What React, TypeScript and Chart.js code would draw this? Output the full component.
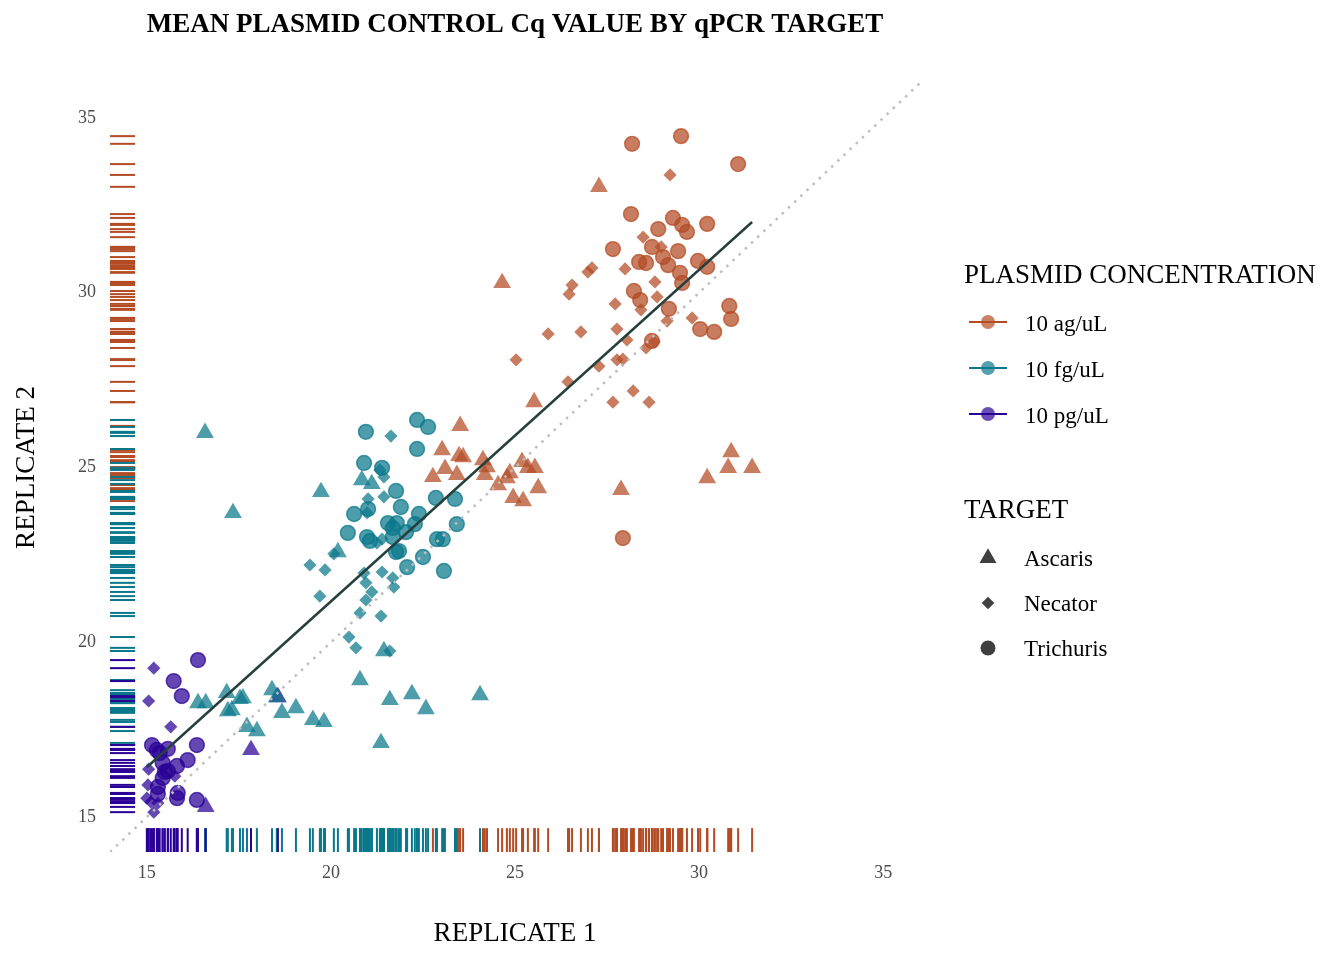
import React, { useEffect, useRef } from "react";
import { Chart, registerables } from "chart.js";

Chart.register(...registerables);

const FONT = "'Liberation Serif', 'Times New Roman', Times, serif";

const AXIS_MIN = 14;
const AXIS_MAX = 36;
const X_TICKS = [15, 20, 25, 30, 35];
const Y_TICKS = [15, 20, 25, 30, 35];

const TITLE = "MEAN PLASMID CONTROL Cq VALUE BY qPCR TARGET";
const X_TITLE = "REPLICATE 1";
const Y_TITLE = "REPLICATE 2";
const COLOR_LEGEND_TITLE = "PLASMID CONCENTRATION";
const SHAPE_LEGEND_TITLE = "TARGET";

const CONCENTRATIONS = ["10 ag/uL", "10 fg/uL", "10 pg/uL"];
const TARGETS = ["Ascaris", "Necator", "Trichuris"];
const CONC_RGB = [
  [179, 75, 36],
  [10, 119, 139],
  [42, 0, 150],
];

// [replicate 1, replicate 2]
const AG_ASCARIS = [
  [22.77, 24.73], [23.02, 25.5], [23.48, 25.33], [23.59, 25.3], [23.1, 24.96], [23.42, 24.79],
  [23.51, 26.19], [24.13, 25.21], [24.18, 24.79], [24.24, 25.01], [24.54, 24.5], [24.78, 24.7],
  [24.86, 24.84], [24.95, 24.13], [25.19, 25.16], [25.22, 24.04], [25.35, 24.99], [25.54, 24.99],
  [25.63, 24.41], [25.52, 26.87], [27.88, 24.36], [30.22, 24.7], [30.79, 24.99], [30.87, 25.44],
  [31.44, 24.99], [24.65, 30.28], [27.28, 33.03],
];
const AG_NECATOR = [
  [29.21, 33.37], [28.48, 31.59], [28.97, 31.31], [27.99, 30.68], [27.09, 30.71], [26.98, 30.59],
  [26.55, 30.22], [26.47, 29.96], [28.8, 30.31], [28.86, 29.88], [27.72, 29.68], [28.42, 29.51],
  [29.13, 29.19], [29.81, 29.28], [27.77, 28.96], [28.04, 28.65], [25.9, 28.82], [26.79, 28.88],
  [28.56, 28.42], [28.78, 28.59], [25.03, 28.08], [27.28, 27.9], [27.77, 28.08], [27.93, 28.1],
  [26.44, 27.45], [28.21, 27.19], [27.66, 26.87], [28.64, 26.87],
];
const AG_TRICHURIS = [
  [28.18, 34.26], [29.51, 34.48], [31.06, 33.68], [28.15, 32.25], [29.29, 32.14], [29.54, 31.94],
  [29.67, 31.74], [30.22, 31.97], [28.89, 31.82], [27.66, 31.25], [28.72, 31.31], [29.02, 31.02],
  [29.43, 31.19], [28.37, 30.88], [28.56, 30.85], [29.16, 30.79], [29.48, 30.57], [29.54, 30.28],
  [29.97, 30.91], [30.22, 30.74], [28.23, 30.05], [28.4, 29.79], [29.18, 29.54], [30.82, 29.62],
  [30.87, 29.25], [30.03, 28.96], [30.41, 28.88], [28.72, 28.62], [27.93, 22.98],
];
const FG_ASCARIS = [
  [16.58, 25.99], [17.34, 23.7], [19.73, 24.3], [20.84, 24.64], [21.11, 24.53], [20.19, 22.58],
  [21.44, 19.75], [20.79, 18.92], [22.2, 18.52], [24.05, 18.49], [21.6, 18.35], [21.36, 17.12],
  [22.58, 18.09], [16.39, 18.26], [16.6, 18.26], [17.17, 18.55], [17.2, 18.03], [17.31, 18.06],
  [17.53, 18.38], [17.61, 18.4], [17.72, 17.58], [17.99, 17.46], [18.4, 18.63], [18.53, 18.43],
  [18.67, 17.98], [19.05, 18.12], [19.51, 17.78], [19.81, 17.72],
];
const FG_NECATOR = [
  [21.63, 25.9], [21.01, 24.1], [21.44, 24.16], [21.33, 24.93], [21.44, 24.73], [20.98, 23.7],
  [20.08, 22.53], [19.43, 22.21], [19.84, 22.07], [20.9, 21.98], [21.39, 22.01], [20.95, 21.7],
  [21.68, 21.84], [21.71, 21.58], [21.11, 21.44], [20.95, 21.21], [19.7, 21.32], [20.79, 20.84],
  [21.36, 20.75], [20.49, 20.15], [20.68, 19.84], [21.6, 19.75], [21.39, 22.95], [21.25, 22.84],
];
const FG_TRICHURIS = [
  [20.95, 26.02], [22.34, 26.36], [22.64, 26.16], [22.34, 25.53], [20.9, 25.13], [21.39, 24.99],
  [21.77, 24.33], [21.9, 23.87], [20.63, 23.67], [21.01, 23.81], [20.46, 23.13], [20.98, 23.01],
  [21.06, 22.9], [21.55, 23.41], [21.79, 23.41], [21.68, 23.27], [22.04, 23.15], [22.28, 23.38],
  [22.39, 23.67], [21.77, 22.58], [21.85, 22.61], [22.07, 22.15], [22.5, 22.44], [22.85, 24.13],
  [23.37, 24.1], [23.42, 23.38], [22.88, 22.95], [23.04, 22.95], [23.07, 22.04], [21.68, 23.01],
];
const PG_ASCARIS = [
  [17.83, 16.92], [18.56, 18.43], [16.6, 15.29],
];
const PG_NECATOR = [
  [15.19, 19.26], [15.05, 18.32], [15.65, 17.58], [15.05, 16.37], [15.03, 15.92], [15.0, 15.54],
  [15.11, 15.43], [15.3, 15.4], [15.19, 15.14], [15.76, 16.17],
];
const PG_TRICHURIS = [
  [16.39, 19.49], [15.73, 18.89], [15.95, 18.46], [16.36, 17.06], [15.14, 17.06], [15.27, 16.92],
  [15.35, 16.83], [15.57, 16.95], [15.43, 16.55], [15.49, 16.29], [15.82, 16.46], [16.11, 16.63],
  [15.3, 15.86], [15.3, 15.66], [15.84, 15.69], [15.82, 15.54], [16.36, 15.49], [15.57, 16.32],
  [15.43, 16.12],
];

const SERIES = [
  { conc: 0, target: 0, points: AG_ASCARIS },
  { conc: 0, target: 1, points: AG_NECATOR },
  { conc: 0, target: 2, points: AG_TRICHURIS },
  { conc: 1, target: 0, points: FG_ASCARIS },
  { conc: 1, target: 1, points: FG_NECATOR },
  { conc: 1, target: 2, points: FG_TRICHURIS },
  { conc: 2, target: 0, points: PG_ASCARIS },
  { conc: 2, target: 1, points: PG_NECATOR },
  { conc: 2, target: 2, points: PG_TRICHURIS },
];

const SHAPES = ["triangle", "rectRot", "circle"];
const SHAPE_RADIUS = [10.3, 6.6, 7.4];

const rgba = (c: number[], a: number) => `rgba(${c[0]},${c[1]},${c[2]},${a})`;

function fitLine() {
  const all = SERIES.flatMap((s) => s.points);
  const n = all.length;
  let sx = 0, sy = 0, sxx = 0, sxy = 0;
  all.forEach(([x, y]) => { sx += x; sy += y; sxx += x * x; sxy += x * y; });
  const slope = (n * sxy - sx * sy) / (n * sxx - sx * sx);
  const intercept = (sy - slope * sx) / n;
  const xs = all.map((p) => p[0]);
  const x0 = Math.min(...xs);
  const x1 = Math.max(...xs);
  return [
    { x: x0, y: intercept + slope * x0 },
    { x: x1, y: intercept + slope * x1 },
  ];
}

function drawShape(ctx: CanvasRenderingContext2D, shape: number, x: number, y: number, r: number) {
  ctx.beginPath();
  if (shape === 0) {
    ctx.moveTo(x, y - r);
    ctx.lineTo(x + r * Math.sin((2 * Math.PI) / 3), y - r * Math.cos((2 * Math.PI) / 3));
    ctx.lineTo(x + r * Math.sin((4 * Math.PI) / 3), y - r * Math.cos((4 * Math.PI) / 3));
    ctx.closePath();
  } else if (shape === 1) {
    ctx.moveTo(x - r, y);
    ctx.lineTo(x, y - r);
    ctx.lineTo(x + r, y);
    ctx.lineTo(x, y + r);
    ctx.closePath();
  } else {
    ctx.arc(x, y, r, 0, Math.PI * 2);
  }
  ctx.fill();
}

const rugPlugin = {
  id: "rug",
  beforeDatasetsDraw(chart: any) {
    const { ctx, chartArea: a, scales } = chart;
    const lenX = (a.bottom - a.top) * 0.031;
    const lenY = (a.right - a.left) * 0.031;
    ctx.save();
    ctx.lineWidth = 2;
    SERIES.forEach((s) => {
      ctx.strokeStyle = rgba(CONC_RGB[s.conc], 1);
      s.points.forEach(([px, py]) => {
        const X = scales.x.getPixelForValue(px);
        const Y = scales.y.getPixelForValue(py);
        ctx.beginPath();
        ctx.moveTo(X, a.bottom);
        ctx.lineTo(X, a.bottom - lenX);
        ctx.stroke();
        ctx.beginPath();
        ctx.moveTo(a.left, Y);
        ctx.lineTo(a.left + lenY, Y);
        ctx.stroke();
      });
    });
    ctx.restore();
  },
};

const textPlugin = {
  id: "texts",
  afterDraw(chart: any) {
    const { ctx, chartArea: a } = chart;
    const cx = (a.left + a.right) / 2;
    const cy = (a.top + a.bottom) / 2;
    ctx.save();
    ctx.fillStyle = "#000";
    ctx.textBaseline = "alphabetic";
    ctx.textAlign = "center";
    ctx.font = `bold 27px ${FONT}`;
    ctx.fillText(TITLE, cx, 32);
    ctx.font = `27px ${FONT}`;
    ctx.fillText(X_TITLE, cx, a.bottom + 89);
    ctx.save();
    ctx.translate(a.left - 76, cy);
    ctx.rotate(-Math.PI / 2);
    ctx.fillText(Y_TITLE, 0, 0);
    ctx.restore();

    // legends
    const lx = a.right + 44;
    const keyX = a.right + 68;
    const labX = a.right + 105;
    ctx.textAlign = "left";
    ctx.font = `27px ${FONT}`;
    ctx.fillText(COLOR_LEGEND_TITLE, lx, 283);
    const colorY = [322, 368, 414];
    CONCENTRATIONS.forEach((lab, i) => {
      const y = colorY[i];
      ctx.strokeStyle = rgba(CONC_RGB[i], 1);
      ctx.lineWidth = 2;
      ctx.beginPath();
      ctx.moveTo(keyX - 19, y);
      ctx.lineTo(keyX + 19, y);
      ctx.stroke();
      ctx.fillStyle = rgba(CONC_RGB[i], 0.7);
      drawShape(ctx, 2, keyX, y, 7);
      ctx.fillStyle = "#000";
      ctx.font = `23px ${FONT}`;
      ctx.fillText(lab, labX, y + 9);
    });
    ctx.font = `27px ${FONT}`;
    ctx.fillStyle = "#000";
    ctx.fillText(SHAPE_LEGEND_TITLE, lx, 518);
    const shapeY = [558, 603, 648];
    TARGETS.forEach((lab, i) => {
      const y = shapeY[i];
      ctx.fillStyle = "rgba(0,0,0,0.75)";
      drawShape(ctx, i, keyX, y, i === 0 ? 9.8 : i === 1 ? 6.3 : 7.5);
      ctx.fillStyle = "#000";
      ctx.font = `23px ${FONT}`;
      ctx.fillText(lab, labX - 1, y + 8);
    });
    ctx.restore();
  },
};

export default function App() {
  const ref = useRef<HTMLCanvasElement | null>(null);
  useEffect(() => {
    if (!ref.current) return;
    const pointSets = SERIES.map((s) => ({
      type: "scatter",
      label: `${CONCENTRATIONS[s.conc]} ${TARGETS[s.target]}`,
      data: s.points.map(([x, y]) => ({ x, y })),
      pointStyle: SHAPES[s.target],
      pointRadius: SHAPE_RADIUS[s.target],
      pointHoverRadius: SHAPE_RADIUS[s.target],
      backgroundColor: rgba(CONC_RGB[s.conc], 0.72),
      borderColor: s.target === 2 ? rgba(CONC_RGB[s.conc], 0.72) : "rgba(0,0,0,0)",
      borderWidth: s.target === 2 ? 1.5 : 0,
      showLine: false,
      order: 2,
    }));
    const chart = new Chart(ref.current, {
      type: "scatter",
      data: {
        datasets: [
          ...pointSets,
          {
            type: "line",
            label: "identity",
            data: [
              { x: AXIS_MIN, y: AXIS_MIN },
              { x: AXIS_MAX, y: AXIS_MAX },
            ],
            borderColor: "#BEBEBE",
            borderWidth: 2.5,
            borderDash: [2.5, 6],
            pointRadius: 0,
            showLine: true,
            order: 1,
          },
          {
            type: "line",
            label: "fit",
            data: fitLine(),
            borderColor: "#25403D",
            borderWidth: 2.5,
            pointRadius: 0,
            showLine: true,
            order: 0,
          },
        ] as any,
      },
      options: {
        responsive: false,
        animation: false,
        events: [],
        layout: { padding: { left: 0, right: 1344 - 920, top: 83, bottom: 0 } },
        plugins: {
          legend: { display: false },
          title: { display: false },
          tooltip: { enabled: false },
        },
        scales: {
          x: {
            type: "linear",
            min: AXIS_MIN,
            max: AXIS_MAX,
            grid: { display: false, drawTicks: false },
            border: { display: false },
            ticks: { font: { family: FONT, size: 18 }, color: "#4D4D4D", padding: 10, maxRotation: 0 },
            afterBuildTicks: (axis: any) => {
              axis.ticks = X_TICKS.map((v) => ({ value: v }));
            },
            afterFit: (axis: any) => {
              axis.height = 108;
            },
          },
          y: {
            type: "linear",
            min: AXIS_MIN,
            max: AXIS_MAX,
            grid: { display: false, drawTicks: false },
            border: { display: false },
            ticks: { font: { family: FONT, size: 18 }, color: "#4D4D4D", padding: 14 },
            afterBuildTicks: (axis: any) => {
              axis.ticks = Y_TICKS.map((v) => ({ value: v }));
            },
            afterFit: (axis: any) => {
              axis.width = 110;
            },
          },
        },
      } as any,
      plugins: [rugPlugin, textPlugin],
    });
    return () => chart.destroy();
  }, []);
  return (
    <div style={{ position: "fixed", left: 0, top: 0, width: 1344, height: 960, background: "#fff" }}>
      <canvas ref={ref} width={1344} height={960} style={{ width: 1344, height: 960, display: "block" }} />
    </div>
  );
}
